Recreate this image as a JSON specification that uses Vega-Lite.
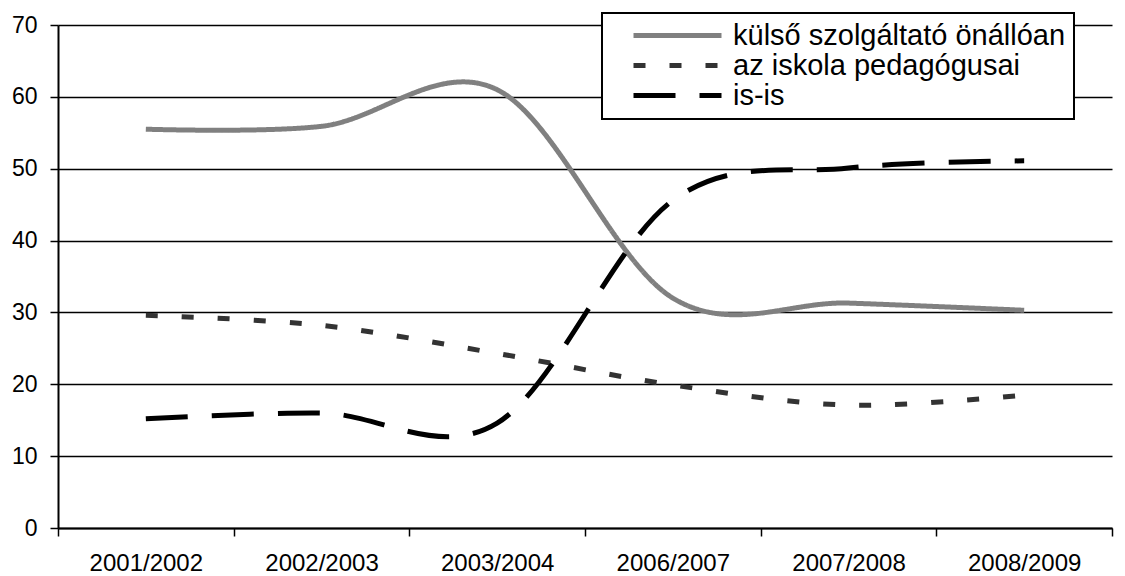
{
  "$schema": "https://vega.github.io/schema/vega-lite/v6.json",
  "width": 1054,
  "height": 503,
  "autosize": "none",
  "padding": {"left": 58, "top": 25, "right": 13, "bottom": 48},
  "background": "white",
  "config": {
    "font": "Liberation Sans",
    "view": {"stroke": null},
    "legend": {
      "orient": "none",
      "legendX": 544,
      "legendY": -12,
      "strokeColor": "black",
      "strokeWidth": 2,
      "fillColor": "white",
      "padding": 8,
      "labelFontSize": 29,
      "labelColor": "black",
      "labelFont": "Liberation Sans",
      "symbolType": "M-4,0H4",
      "symbolSize": 484,
      "symbolStrokeWidth": 5,
      "symbolOffset": 53,
      "labelOffset": 41,
      "rowPadding": -1,
      "labelLimit": 600
    }
  },
  "data": {
    "values": [
      {"year": "2001/2002", "series": "külső szolgáltató önállóan", "value": 55.5},
      {"year": "2002/2003", "series": "külső szolgáltató önállóan", "value": 55.9},
      {"year": "2003/2004", "series": "külső szolgáltató önállóan", "value": 61.0},
      {"year": "2006/2007", "series": "külső szolgáltató önállóan", "value": 32.0},
      {"year": "2007/2008", "series": "külső szolgáltató önállóan", "value": 31.3},
      {"year": "2008/2009", "series": "külső szolgáltató önállóan", "value": 30.3},
      {"year": "2001/2002", "series": "az iskola pedagógusai", "value": 29.6},
      {"year": "2002/2003", "series": "az iskola pedagógusai", "value": 28.2},
      {"year": "2003/2004", "series": "az iskola pedagógusai", "value": 24.3},
      {"year": "2006/2007", "series": "az iskola pedagógusai", "value": 19.9},
      {"year": "2007/2008", "series": "az iskola pedagógusai", "value": 17.1},
      {"year": "2008/2009", "series": "az iskola pedagógusai", "value": 18.5},
      {"year": "2001/2002", "series": "is-is", "value": 15.2},
      {"year": "2002/2003", "series": "is-is", "value": 16.0},
      {"year": "2003/2004", "series": "is-is", "value": 14.6},
      {"year": "2006/2007", "series": "is-is", "value": 45.6},
      {"year": "2007/2008", "series": "is-is", "value": 50.1},
      {"year": "2008/2009", "series": "is-is", "value": 51.1}
    ]
  },
  "mark": {"type": "line", "interpolate": "cardinal", "strokeWidth": 5, "strokeCap": "butt"},
  "encoding": {
    "x": {
      "field": "year",
      "type": "ordinal",
      "sort": null,
      "bandPosition": 0.5,
      "scale": {"type": "band", "paddingInner": 0, "paddingOuter": 0},
      "axis": {
        "title": null,
        "labelAngle": 0,
        "tickBand": "extent",
        "ticks": true,
        "tickSize": 8,
        "tickColor": "black",
        "tickWidth": 1.5,
        "domainColor": "black",
        "domainWidth": 2,
        "labelFontSize": 24,
        "labelColor": "black",
        "labelPadding": 15,
        "grid": false
      }
    },
    "y": {
      "field": "value",
      "type": "quantitative",
      "scale": {"domain": [0, 70]},
      "axis": {
        "title": null,
        "values": [0, 10, 20, 30, 40, 50, 60, 70],
        "grid": true,
        "gridColor": "black",
        "gridWidth": 1.5,
        "domainColor": "black",
        "domainWidth": 2,
        "tickColor": "black",
        "tickWidth": 1.5,
        "tickSize": 8,
        "labelFontSize": 23,
        "labelColor": "black",
        "labelPadding": 13
      }
    },
    "color": {
      "field": "series",
      "type": "nominal",
      "sort": ["külső szolgáltató önállóan", "az iskola pedagógusai", "is-is"],
      "scale": {
        "domain": ["külső szolgáltató önállóan", "az iskola pedagógusai", "is-is"],
        "range": ["#808080", "#333333", "#000000"]
      },
      "title": null
    },
    "strokeDash": {
      "field": "series",
      "type": "nominal",
      "sort": ["külső szolgáltató önállóan", "az iskola pedagógusai", "is-is"],
      "scale": {
        "domain": ["külső szolgáltató önállóan", "az iskola pedagógusai", "is-is"],
        "range": [[1, 0], [12, 24], [42, 24]]
      },
      "title": null
    }
  }
}
